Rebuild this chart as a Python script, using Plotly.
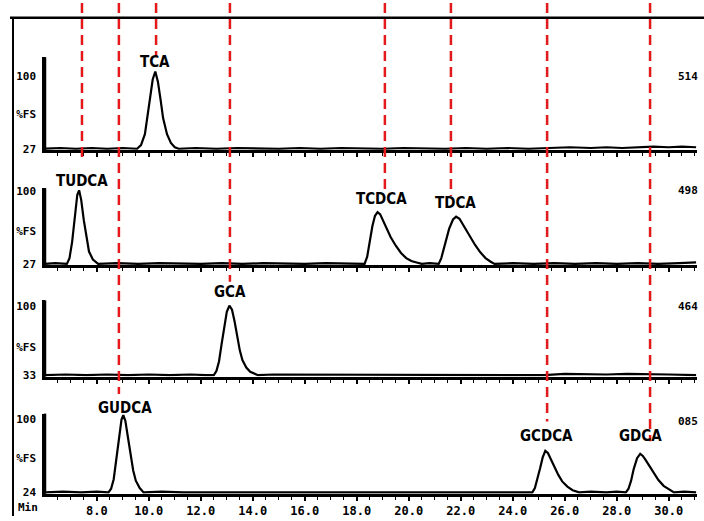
import plotly.graph_objects as go

W, H = 704, 521

# ---------------- data ----------------
p1_time = [6.0, 6.6, 7.2, 7.8, 8.4, 9.0, 9.55, 9.7, 9.85, 9.95, 10.05, 10.15, 10.25, 10.35, 10.45, 10.55,
           10.7, 10.85, 11.0, 11.15, 11.8, 12.6, 13.4, 14.2, 15.0, 15.8, 16.6, 17.4, 18.2, 19.0, 19.8, 20.6,
           21.4, 22.2, 23.0, 23.8, 24.6, 25.4, 26.2, 27.0, 27.6, 28.2, 28.8, 29.4, 30.0, 30.5, 31.05]
p1_signal = [0, 1, 0, 1, 0, 1, 0, 5, 20, 45, 72, 95, 106, 92, 68, 42,
             20, 8, 2, 0, 1, 0, 1, 0, 0, 1, 0, 1, 0, 0, 1, 0,
             0, 1, 0, 1, 0, 1, 2, 1, 2, 1, 2, 3, 2, 3, 2]

p2_time = [6.0, 6.4, 6.85, 6.95, 7.05, 7.15, 7.25, 7.32, 7.4, 7.5, 7.6, 7.7, 7.85, 8.05,
           8.8, 9.6, 10.4, 11.2, 12.0, 12.8, 13.6, 14.4, 15.2, 16.0, 16.8, 17.6,
           18.3, 18.4, 18.5, 18.6, 18.7, 18.8, 18.9, 19.0, 19.15, 19.3, 19.5, 19.7, 19.9, 20.1, 20.3, 20.5,
           20.8, 21.15, 21.25, 21.4, 21.55, 21.7, 21.82, 21.95, 22.1, 22.25, 22.4, 22.55, 22.75, 22.95, 23.15, 23.3,
           24.0, 24.8, 25.6, 26.4, 27.2, 28.0, 28.8, 29.6, 30.4, 31.05]
p2_signal = [0, 1, 0, 8, 30, 65, 95, 101, 88, 60, 35, 17, 6, 0,
             1, 0, 1, 0, 0, 1, 0, 1, 0, 0, 1, 0,
             0, 10, 30, 52, 66, 71, 68, 60, 48, 37, 25, 15, 8, 4, 2, 0,
             1, 0, 8, 28, 48, 61, 65, 62, 53, 43, 35, 26, 16, 8, 3, 0,
             1, 0, 1, 0, 1, 0, 1, 0, 1, 2]

p3_time = [6.0, 6.8, 7.6, 8.4, 9.2, 10.0, 10.8, 11.6, 12.2,
           12.5, 12.6, 12.7, 12.8, 12.9, 13.0, 13.1, 13.2, 13.3, 13.4, 13.5, 13.6, 13.75, 13.9, 14.05, 14.2,
           14.8, 15.6, 16.4, 17.2, 18.0, 18.8, 19.6, 20.4, 21.2, 22.0, 22.8, 23.6, 24.4, 25.2, 26.0, 26.8,
           27.6, 28.4, 29.2, 30.0, 31.05]
p3_signal = [0, 1, 0, 1, 0, 1, 0, 1, 0,
             0, 6, 20, 45, 72, 92, 101, 95, 78, 55, 36, 22, 11, 5, 2, 0,
             1, 1, 0, 1, 0, 1, 1, 0, 1, 1, 0, 1, 1, 0, 2, 1,
             1, 2, 1, 1, 0]

p4_time = [6.0, 6.7, 7.4, 8.0,
           8.45, 8.55, 8.65, 8.75, 8.85, 8.95, 9.02, 9.1, 9.2, 9.3, 9.4, 9.5, 9.65, 9.8,
           10.5, 11.3, 12.1, 12.9, 13.7, 14.5, 15.3, 16.1, 16.9, 17.7, 18.5, 19.3, 20.1, 20.9, 21.7, 22.5, 23.3, 24.1,
           24.75, 24.85, 24.95, 25.05, 25.15, 25.25, 25.35, 25.45, 25.6, 25.75, 25.9, 26.1, 26.3, 26.55,
           27.0, 27.6, 28.0,
           28.35, 28.45, 28.55, 28.65, 28.78, 28.9, 29.0, 29.1, 29.25, 29.4, 29.6, 29.8, 30.0, 30.2,
           30.6, 31.05]
p4_signal = [0, 1, 0, 1,
             0, 5, 18, 45, 78, 100, 106, 98, 75, 50, 30, 16, 6, 0,
             1, 0, 0, 1, 0, 1, 0, 0, 1, 0, 0, 1, 0, 0, 1, 0, 1, 0,
             0, 6, 18, 33, 48, 57, 54, 46, 35, 24, 15, 8, 3, 0,
             1, 0, 1,
             0, 5, 16, 32, 47, 53, 50, 45, 36, 27, 17, 9, 4, 0,
             1, 0]

panel_low_labels = ["27", "27", "33", "24"]
panel_mid_label = "%FS"
panel_top_label = "100"
panel_right_labels = ["514", "498", "464", "085"]

peak_names = ["TCA", "TUDCA", "TCDCA", "TDCA", "GCA", "GUDCA", "GCDCA", "GDCA"]
peak_time = [10.24, 7.43, 18.95, 21.78, 13.12, 9.08, 25.3, 28.93]

marker_times = [7.43, 8.85, 10.28, 13.12, 19.08, 21.62, 25.32, 29.28]

x_tick_vals = [8, 10, 12, 14, 16, 18, 20, 22, 24, 26, 28, 30]
x_tick_text = ["8.0", "10.0", "12.0", "14.0", "16.0", "18.0", "20.0", "22.0", "24.0", "26.0", "28.0", "30.0"]

# ---------------- layout geometry ----------------
x_px = (45, 697)
t_range = [(45 + 111.2) / 26.0, (697 + 111.2) / 26.0]
base_px = [148, 265, 378, 497]
top_px = [55, 188, 302, 417]
px_per_unit = [0.74, 0.74, 0.70, 0.74]
mid_vals = [47, 45, 40, 47]
label_px = [60, 181, 199, 203, 293, 411, 440, 440]
marker_end_px = [160, 397, 55, 283, 190, 196, 425, 445]
right_label_px = [75, 190, 308, 425]

MONO = "DejaVu Sans Mono, Liberation Mono, monospace"
NARROW = "Liberation Sans Narrow, DejaVu Sans Condensed, Arial Narrow, sans-serif"

fig = go.Figure()
series = [(p1_time, p1_signal), (p2_time, p2_signal), (p3_time, p3_signal), (p4_time, p4_signal)]
for i, (t, s) in enumerate(series):
    n = "" if i == 0 else str(i + 1)
    fig.add_trace(go.Scatter(x=t, y=s, mode="lines", line=dict(color="black", width=2.2),
                             xaxis="x" + n, yaxis="y" + n, showlegend=False, hoverinfo="skip",
                             cliponaxis=False))

layout = dict(width=W, height=H, margin=dict(l=0, r=0, t=0, b=0),
              paper_bgcolor="white", plot_bgcolor="white", showlegend=False)

shapes = [
    dict(type="line", xref="paper", yref="paper", x0=10 / W, x1=1, y0=1 - 15 / H, y1=1 - 15 / H,
         line=dict(color="black", width=2.5)),
    dict(type="line", xref="paper", yref="paper", x0=13 / W, x1=13 / W, y0=1 - 15 / H, y1=0,
         line=dict(color="black", width=2)),
]

for i in range(4):
    n = "" if i == 0 else str(i + 1)
    sc = px_per_unit[i]
    ytop = (base_px[i] - top_px[i]) / sc
    ybot_px = base_px[i] + 2 * sc
    layout["yaxis" + n] = dict(
        domain=[1 - ybot_px / H, 1 - top_px[i] / H], range=[-2, ytop], anchor="x" + n,
        showline=True, linewidth=2.5, linecolor="black", ticks="", showgrid=False, zeroline=False,
        tickvals=[0, mid_vals[i], 100], ticktext=[panel_low_labels[i], panel_mid_label, panel_top_label],
        tickfont=dict(family=MONO, size=11, color="black", weight="bold"), ticklabelstandoff=4,
        fixedrange=True)
    layout["xaxis" + n] = dict(
        domain=[x_px[0] / W, x_px[1] / W], range=t_range, anchor="y" + n,
        showline=True, linewidth=3, linecolor="black", showgrid=False, zeroline=False,
        ticks="outside", ticklen=4, tickwidth=1.5, tickcolor="black",
        tickvals=x_tick_vals, ticktext=x_tick_text, showticklabels=(i == 3),
        tickfont=dict(family=MONO, size=12, color="black", weight="bold"),
        minor=dict(ticks="outside", ticklen=3, tickwidth=1, tickcolor="black", dtick=0.5, showgrid=False),
        fixedrange=True)
    # explicit vertical axis line (left edge of each panel)
    shapes.append(dict(type="line", xref="x" + n + " domain", yref="y" + n + " domain",
                       x0=0, x1=0, y0=0, y1=1, line=dict(color="black", width=2.5), layer="above"))

fig.update_layout(**layout)

annotations = []
for name, t, py in zip(peak_names, peak_time, label_px):
    annotations.append(dict(x=t, y=1 - py / H, xref="x", yref="paper", text=name, showarrow=False,
                            font=dict(family=NARROW, size=15, color="black", weight="bold"),
                            xanchor="center", yanchor="middle"))
for txt, py in zip(panel_right_labels, right_label_px):
    annotations.append(dict(x=688 / W, y=1 - py / H, xref="paper", yref="paper", text=txt, showarrow=False,
                            font=dict(family=MONO, size=11, color="black", weight="bold"),
                            xanchor="center", yanchor="middle"))
annotations.append(dict(x=28 / W, y=1 - 512 / H, xref="paper", yref="paper", text="Min", showarrow=False,
                        font=dict(family=MONO, size=11, color="black", weight="bold"),
                        xanchor="center", yanchor="middle"))
fig.update_layout(annotations=annotations)

for t, end in zip(marker_times, marker_end_px):
    shapes.append(dict(type="line", xref="x", yref="paper", x0=t, x1=t, y0=1, y1=1 - end / H,
                       line=dict(color="#e3191b", width=2.5, dash="10px,6px"), layer="above"))
fig.update_layout(shapes=shapes)

fig.write_html("out.html")
